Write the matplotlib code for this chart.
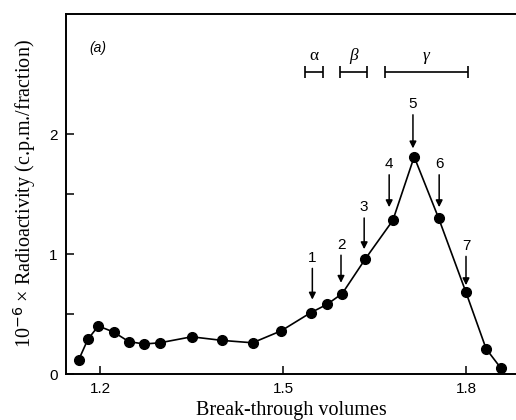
import matplotlib.pyplot as plt

# elution profile
volume = [1.165, 1.18, 1.197, 1.222, 1.247, 1.272, 1.298, 1.35, 1.40, 1.45,
          1.497, 1.545, 1.572, 1.597, 1.635, 1.68, 1.715, 1.755, 1.80, 1.833, 1.857]
activity = [0.12, 0.29, 0.40, 0.35, 0.27, 0.25, 0.26, 0.31, 0.28, 0.26,
            0.36, 0.51, 0.58, 0.67, 0.96, 1.28, 1.81, 1.30, 0.68, 0.21, 0.05]

# numbered arrows: x position, tail and tip heights
arrow_labels = ["1", "2", "3", "4", "5", "6", "7"]
arrow_x = [1.548, 1.595, 1.633, 1.674, 1.713, 1.756, 1.800]
arrow_tail = [0.88, 0.99, 1.30, 1.66, 2.16, 1.66, 0.98]
arrow_tip = [0.62, 0.76, 1.04, 1.39, 1.88, 1.39, 0.74]

# fraction ranges
range_labels = ["α", "β", "γ"]
range_start = [1.536, 1.593, 1.667]
range_end = [1.566, 1.638, 1.803]
range_y = 2.52

fig = plt.figure(figsize=(5.16, 4.20), dpi=100)
ax = fig.add_axes([66 / 516, 46 / 420, 450 / 516, 360 / 420])

ax.plot(volume, activity, color="black", lw=1.2, marker="o", ms=7)

for lab, x, y0, y1 in zip(arrow_labels, arrow_x, arrow_tail, arrow_tip):
    ax.annotate("", xy=(x, y1), xytext=(x, y0),
                arrowprops=dict(arrowstyle="-|>", color="black", lw=1.1,
                                mutation_scale=10, shrinkA=0, shrinkB=0))
    ax.text(x, y0 + 0.03, lab, ha="center", va="bottom", fontsize=11,
            family="Liberation Sans")

for lab, a, b in zip(range_labels, range_start, range_end):
    ax.errorbar([(a + b) / 2], [range_y], xerr=[(b - a) / 2], color="black",
                lw=1.2, capsize=4.5, capthick=1.2)
    ax.text((a + b) / 2, range_y + 0.06, lab, ha="center", va="bottom",
            fontsize=12.5, family="Liberation Serif",
            style="normal" if lab == "α" else "italic")

ax.text(1.197, 2.72, "(a)", fontsize=10, family="Liberation Sans", style="italic",
        ha="center", va="center")

ax.set_xlim(1.144, 1.882)
ax.set_ylim(0, 3.0)
ax.set_xticks([1.2, 1.5, 1.8])
ax.set_xticklabels(["1.2", "1.5", "1.8"])
ax.set_yticks([0, 1, 2])
ax.set_yticks([0.5, 1.5], minor=True)
ax.tick_params(direction="in", length=6, width=1.1, labelsize=11, pad=6)
ax.tick_params(which="minor", direction="in", length=6, width=1.1)
for t in ax.get_xticklabels() + ax.get_yticklabels():
    t.set_family("Liberation Sans")

ax.spines["right"].set_visible(False)
for s in ["left", "bottom", "top"]:
    ax.spines[s].set_linewidth(1.4)

ax.set_xlabel("Break-through volumes", family="Liberation Serif", fontsize=14.5, labelpad=3)
ax.set_ylabel("10$^{-6}$ × Radioactivity (c.p.m./fraction)", family="Liberation Serif",
              fontsize=14.5, labelpad=8)

plt.savefig("out.png", dpi=100)
